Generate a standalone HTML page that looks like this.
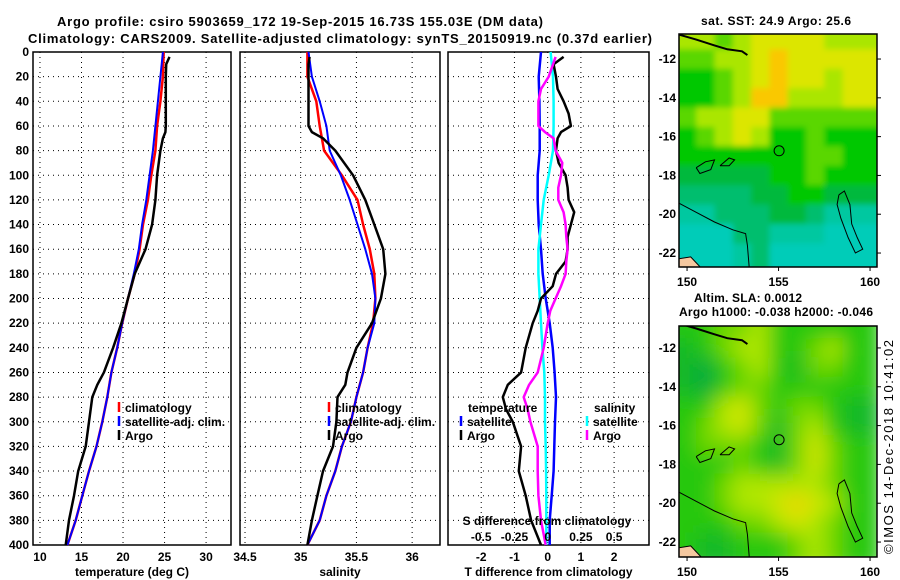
<!DOCTYPE html>
<html><head><meta charset="utf-8"><style>
html,body{margin:0;padding:0;background:#fff;}
svg{display:block;font-family:"Liberation Sans",sans-serif;font-weight:bold;}
</style></head><body>
<svg id="c" width="900" height="580" viewBox="0 0 900 580" xmlns="http://www.w3.org/2000/svg">
<defs>
<filter id="blur1" filterUnits="userSpaceOnUse" x="660" y="0" width="240" height="300"><feGaussianBlur stdDeviation="3"/></filter>
<filter id="blur2" filterUnits="userSpaceOnUse" x="660" y="300" width="240" height="280"><feGaussianBlur stdDeviation="10"/></filter>
<clipPath id="clipM1"><rect x="679" y="34" width="198" height="233"/></clipPath>
<clipPath id="clipM2"><rect x="679" y="326" width="198" height="231"/></clipPath>
</defs>
<text x="300" y="26" font-size="13" text-anchor="middle" textLength="486">Argo profile: csiro 5903659_172 19-Sep-2015 16.73S 155.03E (DM data)</text>
<text x="340" y="43" font-size="13" text-anchor="middle" textLength="624">Climatology: CARS2009. Satellite-adjusted climatology: synTS_20150919.nc (0.37d earlier)</text>
<g id="g"></g>
</svg>
<script>
const NS="http://www.w3.org/2000/svg";
const root=document.getElementById('g');
function mk(tag,attrs,parent,txt){const e=document.createElementNS(NS,tag);for(const k in attrs)e.setAttribute(k,attrs[k]);if(txt!==undefined)e.textContent=txt;(parent||root).appendChild(e);return e;}

// ---------- profile data ----------
const depths=[0,20,40,60,80,100,120,140,160,180,200,220,240,260,280,300,320,340,360,380,400];
const tempClim=[24.9,24.8,24.5,24.1,23.9,23.4,23.0,22.4,22.0,21.4,20.6,19.9,19.3,18.6,18.1,17.5,16.8,15.9,15.1,14.3,13.3];
const tempSat=[24.8,24.5,24.2,23.9,23.6,23.2,22.8,22.3,21.9,21.3,20.6,19.9,19.3,18.6,18.1,17.5,16.8,15.9,15.1,14.3,13.3];
const argoDepths=[4,10,20,40,60,65,70,80,100,120,140,160,180,200,220,240,260,270,280,300,320,340,360,380,400];
const tempArgo=[25.6,25.2,25.15,25.15,25.15,25.1,24.8,24.5,24.1,23.9,23.5,22.7,21.4,20.6,19.8,18.8,17.7,16.9,16.3,15.9,15.5,14.6,14.1,13.5,13.1];
const salClim=[35.06,35.06,35.14,35.17,35.21,35.37,35.51,35.56,35.62,35.66,35.67,35.65,35.6,35.56,35.5,35.45,35.37,35.31,35.23,35.17,35.06];
const salSat=[35.07,35.1,35.17,35.23,35.26,35.36,35.44,35.51,35.58,35.64,35.67,35.66,35.6,35.56,35.5,35.45,35.37,35.31,35.23,35.17,35.06];
const salArgo=[35.08,35.07,35.07,35.07,35.07,35.1,35.2,35.31,35.47,35.58,35.66,35.74,35.76,35.72,35.64,35.5,35.42,35.4,35.33,35.32,35.29,35.2,35.15,35.1,35.06];
const diffDepths=[4,10,20,30,40,50,60,65,70,80,90,100,110,120,130,140,150,160,170,180,190,200,210,220,240,260,270,280,290,300,320,340,360,380,400];
const tDiffArgo=[0.48,0.18,0.25,0.3,0.48,0.63,0.7,0.4,0.3,0.25,0.33,0.54,0.6,0.63,0.8,0.7,0.6,0.6,0.54,0.25,0.15,-0.2,-0.3,-0.45,-0.66,-0.8,-1.2,-1.35,-1.25,-1.05,-0.8,-0.87,-0.66,-0.5,-0.2];
const sDiffArgo=[0.06,0.04,0.008,-0.05,-0.07,-0.07,-0.07,-0.02,0.045,0.06,0.11,0.1,0.08,0.08,0.12,0.135,0.14,0.15,0.14,0.135,0.1,0.06,0.02,0,-0.03,-0.075,-0.14,-0.18,-0.15,-0.13,-0.075,-0.075,-0.07,-0.05,-0.015];
const tDiffSat=[-0.2,-0.27,-0.25,-0.24,-0.24,-0.3,-0.3,-0.27,-0.2,-0.15,-0.06,0.06,0.15,0.21,0.25,0.22,0.2,0.18,0.12,0.06,0.06];
const sDiffSat=[0.022,0.04,0.045,0.045,0.04,0.008,-0.03,-0.05,-0.07,-0.07,-0.06,-0.05,-0.04,-0.025,-0.02,-0.02,-0.015,-0.012,-0.01,-0.01,-0.01];
const depthTicks=[0,20,40,60,80,100,120,140,160,180,200,220,240,260,280,300,320,340,360,380,400];
const tempTicks=[10,15,20,25,30];
const salTicks=[34.5,35,35.5,36];
const tDiffTicks=[-2,-1,0,1,2];
const sDiffTicks=[-0.5,-0.25,0,0.25,0.5];
const sDiffTickLabels=["-0.5","-0.25","0","0.25","0.5"];

const Y0=52,Y1=545;
const yD=d=>Y0+d/400*(Y1-Y0);
function lin(d0,d1,p0,p1){return v=>p0+(v-d0)/(d1-d0)*(p1-p0);}
const panels=[
 {x0:33,x1:231,sx:lin(9.16,33.0,33,231),ticks:tempTicks,labels:tempTicks.map(String),title:"temperature (deg C)",name:"temperature"},
 {x0:240,x1:440,sx:lin(34.455,36.25,240,440),ticks:salTicks,labels:salTicks.map(String),title:"salinity",name:"salinity"},
 {x0:448,x1:649,sx:lin(-3.0,3.05,448,649),ticks:tDiffTicks,labels:tDiffTicks.map(String),title:"T difference from climatology",name:"difference"}
];
panels.forEach((p,i)=>{
  const g=mk('g',{});
  
  
  depthTicks.forEach(d=>{
    const l=mk('line',{x1:p.x0,x2:p.x1,y1:yD(d),y2:yD(d),stroke:'#000','stroke-width':1,'stroke-dasharray':'1 4'},g);
    
    
  });
  p.ticks.forEach((t,k)=>{
    const x=p.sx(t);
    const l=mk('line',{x1:x,x2:x,y1:Y0,y2:Y1,stroke:'#000','stroke-width':1,'stroke-dasharray':'1 4'},g);
    
    
    const tx=mk('text',{x:x,y:561,'font-size':12,'text-anchor':'middle'},g,p.labels[k]);
    
    
  });
  const fr=mk('rect',{x:p.x0,y:Y0,width:p.x1-p.x0,height:Y1-Y0,fill:'none',stroke:'#000','stroke-width':1.5},g);
  
  
  const at=mk('text',{x:(p.x0+p.x1)/2,y:576,'font-size':12,'text-anchor':'middle'},g,p.title);
  
  
});
depthTicks.forEach(d=>{
  const t=mk('text',{x:29,y:yD(d)+4,'font-size':12,'text-anchor':'end'},root,String(d));
  
  
});
function line(xs,ds,sx,color,w,name){
  const pts=xs.map((v,i)=>sx(v).toFixed(1)+','+yD(ds[i]).toFixed(1)).join(' ');
  const e=mk('polyline',{points:pts,fill:'none',stroke:color,'stroke-width':w,'stroke-linejoin':'round'});
  
  
}
const P=panels;
line(tempClim,depths,P[0].sx,'#f00',2.5,'temp-climatology-line');
line(tempSat,depths,P[0].sx,'#00f',2,'temp-satellite-line');
line(tempArgo,argoDepths,P[0].sx,'#000',2.5,'temp-argo-line');
line(salClim,depths,P[1].sx,'#f00',2.5,'sal-climatology-line');
line(salSat,depths,P[1].sx,'#00f',2,'sal-satellite-line');
line(salArgo,argoDepths,P[1].sx,'#000',2.5,'sal-argo-line');
const sxS=v=>P[2].sx(v*4);
line(tDiffSat,depths,P[2].sx,'#00f',2.5,'tdiff-satellite-line');
line(sDiffSat,depths,sxS,'#0ff',2.5,'sdiff-satellite-line');
line(tDiffArgo,diffDepths,P[2].sx,'#000',2.5,'tdiff-argo-line');
line(sDiffArgo,diffDepths,sxS,'#f0f',2.5,'sdiff-argo-line');
sDiffTicks.forEach((t,k)=>{
  const e=mk('text',{x:sxS(t),y:541,'font-size':12,'text-anchor':'middle'},root,sDiffTickLabels[k]);
  
  
});
{const e=mk('text',{x:547,y:525,'font-size':12,'text-anchor':'middle'},root,'S difference from climatology');
}

function legend(x,y,color,label,name){
  const g=mk('g',{});
  
  
  if(color) mk('line',{x1:x,x2:x,y1:y-10,y2:y,stroke:color,'stroke-width':2.5},g);
  mk('text',{x:x+6,y:y,'font-size':12},g,label);
}
legend(119,412,'#f00','climatology','legend-climatology-temp');
legend(119,426,'#00f','satellite-adj. clim.','legend-satellite-temp');
legend(119,440,'#000','Argo','legend-argo-temp');
legend(329,412,'#f00','climatology','legend-climatology-sal');
legend(329,426,'#00f','satellite-adj. clim.','legend-satellite-sal');
legend(329,440,'#000','Argo','legend-argo-sal');
legend(462,412,null,'temperature','legend-temperature-header');
legend(461,426,'#00f','satellite','legend-t-satellite');
legend(461,440,'#000','Argo','legend-t-argo');
legend(588,412,null,'salinity','legend-salinity-header');
legend(587,426,'#0ff','satellite','legend-s-satellite');
legend(587,440,'#f0f','Argo','legend-s-argo');

// ---------- maps ----------
const mapLons=[150,151,152,153,154,155,156,157,158,159];
const mapLats=[-11,-12,-13,-14,-15,-16,-17,-18,-19,-20,-21,-22];
const sstGrid=[
[7,7,6,7,8,8,8,8,7,7],
[6,6,7,7,8,9,8,8,8,8],
[5,5,6,7,8,9,8,8,7,8],
[5,5,6,7,9,9,7,7,7,8],
[6,7,7,8,8,6,6,6,6,6],
[5,6,7,8,7,5,5,6,5,5],
[5,5,5,5,5,5,5,6,6,5],
[4,4,4,4,4,5,5,6,5,5],
[3,3,3,3,4,4,5,5,4,4],
[2,2,3,3,3,4,4,3,2,2],
[1,1,1,3,3,2,2,2,1,1],
[1,1,1,2,3,1,1,1,1,1]];
const slaGrid=[
[5,5,6,6,7,5,5,5,5,5],
[4,5,6,7,7,5,5,6,7,5],
[4,3,5,6,7,5,4,6,6,5],
[4,3,5,6,6,5,5,5,5,5],
[5,5,7,8,6,5,6,6,5,4],
[5,6,7,8,6,4,6,7,5,4],
[5,6,6,6,5,4,6,8,6,5],
[5,5,5,6,5,4,6,8,6,5],
[5,5,6,7,7,7,7,7,6,5],
[5,5,6,7,7,8,9,8,7,5],
[5,5,5,6,6,7,8,7,6,5],
[5,4,4,5,5,5,6,7,6,5]];
const mapLonTicks=[150,155,160];
const mapLatTicks=[-12,-14,-16,-18,-20,-22];
const argoPos=[155.03,-16.73];
const reefOutline=[[158.3,-19.0],[158.6,-18.8],[158.9,-19.5],[159.0,-20.5],[159.3,-21.2],[159.6,-21.8],[159.2,-22.0],[158.8,-21.2],[158.4,-20.2],[158.2,-19.5],[158.3,-19.0]];
const shelfContour=[[149.5,-19.4],[150.5,-19.9],[151.5,-20.4],[152.5,-20.8],[153.2,-21.0],[153.3,-21.6],[153.4,-22.8]];
const reef2=[[150.5,-17.6],[151.0,-17.3],[151.5,-17.2],[151.3,-17.7],[150.7,-17.9],[150.5,-17.6]];
const reef3=[[151.8,-17.5],[152.3,-17.1],[152.6,-17.2],[152.3,-17.5],[151.8,-17.5]];
const pngCoast=[[149.6,-10.75],[150.5,-11.0],[151.5,-11.3],[152.2,-11.5],[153.0,-11.6],[153.3,-11.8]];
const sstStops=[[0,[0,208,208]],[2,[0,200,160]],[3,[0,190,110]],[4,[0,185,60]],[5,[0,200,0]],[6,[90,215,0]],[7,[170,230,0]],[8,[220,230,0]],[9,[250,200,0]],[10,[255,160,0]]];
const slaStops=[[3,[0,170,60]],[4,[20,185,40]],[5,[40,200,10]],[6,[110,215,0]],[7,[175,230,0]],[8,[210,230,0]],[9,[235,215,0]]];
function cmap(stops,v){
  if(v<=stops[0][0])return stops[0][1];
  for(let i=1;i<stops.length;i++){if(v<=stops[i][0]){const a=stops[i-1],b=stops[i],t=(v-a[0])/(b[0]-a[0]);return a[1].map((c,k)=>Math.round(c+(b[1][k]-c)*t));}}
  return stops[stops.length-1][1];
}
function drawMap(m){
  const sx=lin(149.56,160.38,679,877), sy=lin(m.latTop,m.latBot,m.top,m.bot);
  const g=mk('g',{'clip-path':'url(#'+m.clip+')'});
  
  
  const h=mk('g',{filter:'url(#'+m.filter+')'},g);
  m.grid.forEach((row,r)=>row.forEach((v,c)=>{
    let x=sx(mapLons[c]-0.5), y=sy(mapLats[r]+0.5);
    let x2=sx(mapLons[c]+0.5), y2=sy(mapLats[r]-0.5);
    if(c===0)x-=20; if(c===row.length-1)x2+=20;
    if(r===0)y-=20; if(r===m.grid.length-1)y2+=20;
    const e=mk('rect',{x:x,y:y,width:x2-x+0.5,height:y2-y+0.5,fill:'rgb('+cmap(m.stops,v).join(',')+')'},h);
    
    
  }));
  const path=pts=>pts.map((p,i)=>(i?'L':'M')+sx(p[0]).toFixed(1)+' '+sy(p[1]).toFixed(1)).join(' ');
  [[reefOutline,'reef-contour'],[shelfContour,'shelf-contour'],[reef2,'reef-contour'],[reef3,'reef-contour']].forEach(([pts,n])=>{
    const e=mk('path',{d:path(pts),fill:'none',stroke:'#000','stroke-width':1},g);
    
    
  });
  const cst=mk('path',{d:path(pngCoast),fill:'none',stroke:'#000','stroke-width':2},g);
  
  
  const land=mk('path',{d:path([[149.5,-22.3],[150.2,-22.2],[150.8,-22.8],[149.5,-22.8]]),fill:'#f5c8a0',stroke:'#000','stroke-width':1},g);
  
  
  const ci=mk('circle',{cx:sx(argoPos[0]),cy:sy(argoPos[1]),r:5,fill:'none',stroke:'#000','stroke-width':1},root);
  
  
  const fr=mk('rect',{x:679,y:m.top,width:198,height:m.bot-m.top,fill:'none',stroke:'#000','stroke-width':1.5},root);
  
  
  mapLonTicks.forEach(t=>{
    mk('line',{x1:sx(t),x2:sx(t),y1:m.bot,y2:m.bot+4,stroke:'#000'},root);
    const e=mk('text',{x:sx(t),y:m.bot+19,'font-size':12,'text-anchor':'middle'},root,String(t));
    
    
  });
  mapLatTicks.forEach(t=>{
    mk('line',{x1:877,x2:881,y1:sy(t),y2:sy(t),stroke:'#000'},root);
    const e=mk('text',{x:676,y:sy(t)+4,'font-size':12,'text-anchor':'end'},root,String(t));
    
    
  });
}
drawMap({grid:sstGrid,stops:sstStops,top:34,bot:267,latTop:-10.71,latBot:-22.72,clip:'clipM1',filter:'blur1',name:'sst-map'});
drawMap({grid:slaGrid,stops:slaStops,top:326,bot:557,latTop:-10.87,latBot:-22.77,clip:'clipM2',filter:'blur2',name:'sla-map'});
function txt(x,y,s,t,len,name,extra){
  const e=mk('text',Object.assign({x:x,y:y,'font-size':s,'text-anchor':'middle'},len?{textLength:len}:{} ,extra||{}),root,t);
  
  
}
txt(776,25,12,'sat. SST: 24.9 Argo: 25.6',150,'sst-map-title');
txt(748,302,12,'Altim. SLA: 0.0012',108,'sla-map-title');
txt(776,316,12,'Argo h1000: -0.038 h2000: -0.046',194,'sla-map-subtitle');
txt(0,0,13,'©IMOS 14-Dec-2018 10:41:02',214,'copyright-label',{transform:'translate(893,447) rotate(-90)','font-weight':'normal'});
</script>
</body></html>
